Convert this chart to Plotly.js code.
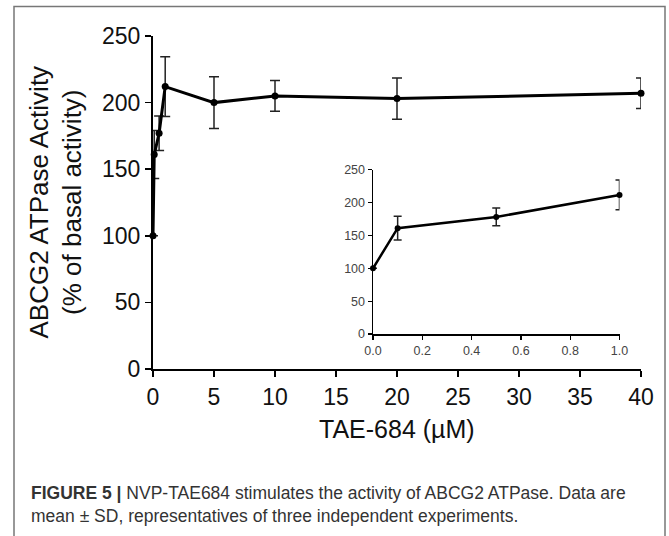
<!DOCTYPE html>
<html>
<head>
<meta charset="utf-8">
<script src="https://cdn.plot.ly/plotly-3.0.1.min.js"></script>
<style>html,body{margin:0;padding:0;background:#fff;}#chart{width:669px;height:536px;}</style>
</head>
<body>
<div id="chart"></div>
<script>
// Main plot data (TAE-684 concentration, µM)
const mainX = [0, 0.1, 0.5, 1, 5, 10, 20, 40];
const mainY = [100, 161, 177, 212, 200, 205, 203, 207];
const mainSD = [0, 18, 13, 22.5, 19.5, 11.5, 15.5, 11.5];
// Inset data (low-concentration range)
const insetX = [0, 0.1, 0.5, 1.0];
const insetY = [100, 161, 178, 211.5];
const insetSD = [0, 18, 13.5, 22.5];
// Tick labels
const mainXTicks = [0, 5, 10, 15, 20, 25, 30, 35, 40];
const mainYTicks = [0, 50, 100, 150, 200, 250];
const insetXTicks = [0, 0.2, 0.4, 0.6, 0.8, 1.0];
const insetYTicks = [0, 50, 100, 150, 200, 250];
// Texts
const yTitle = "ABCG2 ATPase Activity<br>(% of basal activity)";
const xTitle = "TAE-684 (\u00b5M)";
const caption1 = "<b>FIGURE 5 |</b> NVP-TAE684 stimulates the activity of ABCG2 ATPase. Data are";
const caption2 = "mean \u00b1 SD, representatives of three independent experiments.";

const FONT = "Liberation Sans, Arial, sans-serif";

const traces = [
  {
    x: mainX, y: mainY, type: "scatter", mode: "lines+markers",
    xaxis: "x", yaxis: "y", cliponaxis: false,
    line: {color: "#000", width: 3},
    marker: {color: "#000", size: 7},
    error_y: {type: "data", array: mainSD, visible: true, color: "#222", thickness: 1.5, width: 5}
  },
  {
    x: insetX, y: insetY, type: "scatter", mode: "lines+markers",
    xaxis: "x2", yaxis: "y2", cliponaxis: false,
    line: {color: "#000", width: 2.5},
    marker: {color: "#000", size: 6},
    error_y: {type: "data", array: insetSD, visible: true, color: "#222", thickness: 1.5, width: 4}
  }
];

const L = 153, R = 28, T = 35.5, B = 167;
const W = 669, H = 536;
const pw = W - L - R, ph = H - T - B;
const px = v => (v - L) / pw;
const py = v => (H - B - v) / ph;

const layout = {
  width: W, height: H,
  margin: {l: L, r: R, t: T, b: B, pad: 0},
  paper_bgcolor: "#fff", plot_bgcolor: "rgba(0,0,0,0)",
  showlegend: false,
  font: {family: FONT, color: "#000"},
  xaxis: {
    range: [0, 40], tickvals: mainXTicks, ticktext: mainXTicks.map(String),
    showgrid: false, zeroline: false, showline: true, linecolor: "#000", linewidth: 2,
    ticks: "outside", ticklen: 6, tickwidth: 1.5, tickcolor: "#000",
    tickfont: {size: 23, family: FONT, color: "#111"}, domain: [0, 1], anchor: "y"
  },
  yaxis: {
    range: [0, 250], tickvals: mainYTicks, ticktext: mainYTicks.map(String),
    showgrid: false, zeroline: false, showline: true, linecolor: "#000", linewidth: 2,
    ticks: "outside", ticklen: 6, tickwidth: 1.5, tickcolor: "#000",
    tickfont: {size: 23, family: FONT, color: "#111"}, domain: [0, 1], anchor: "x"
  },
  xaxis2: {
    range: [0, 1], tickvals: insetXTicks, ticktext: insetXTicks.map(v => v.toFixed(1)),
    showgrid: false, zeroline: false, showline: true, linecolor: "#000", linewidth: 1.5,
    ticks: "outside", ticklen: 4, tickwidth: 1.2, tickcolor: "#000",
    tickfont: {size: 12.5, family: FONT, color: "#444"},
    domain: [px(373), px(619.5)], anchor: "y2"
  },
  yaxis2: {
    range: [0, 250], tickvals: insetYTicks, ticktext: insetYTicks.map(String),
    showgrid: false, zeroline: false, showline: true, linecolor: "#000", linewidth: 1.5,
    ticks: "outside", ticklen: 4, tickwidth: 1.2, tickcolor: "#000",
    tickfont: {size: 12.5, family: FONT, color: "#444"},
    domain: [py(334), py(169.3)], anchor: "x2"
  },
  annotations: [
    {text: yTitle, xref: "paper", yref: "paper", x: px(55), y: 0.5, xanchor: "center", yanchor: "middle",
     textangle: -90, showarrow: false, font: {size: 26, family: FONT, color: "#111"}},
    {text: xTitle, xref: "paper", yref: "paper", x: px(397), y: py(429), xanchor: "center", yanchor: "middle",
     showarrow: false, font: {size: 25, family: FONT, color: "#111"}},
    {text: caption1, xref: "paper", yref: "paper", x: px(29), y: py(493), xanchor: "left", yanchor: "middle",
     showarrow: false, align: "left", font: {size: 17.5, family: FONT, color: "#333"}},
    {text: caption2, xref: "paper", yref: "paper", x: px(29), y: py(516), xanchor: "left", yanchor: "middle",
     showarrow: false, align: "left", font: {size: 17.5, family: FONT, color: "#333"}}
  ],
  shapes: [
    {type: "rect", xref: "paper", yref: "paper", x0: px(14), x1: px(665), y0: py(545), y1: py(6),
     line: {color: "#777", width: 1.5}, fillcolor: "rgba(0,0,0,0)", layer: "below"}
  ]
};

Plotly.newPlot("chart", traces, layout, {displayModeBar: false, staticPlot: true});
</script>
</body>
</html>
